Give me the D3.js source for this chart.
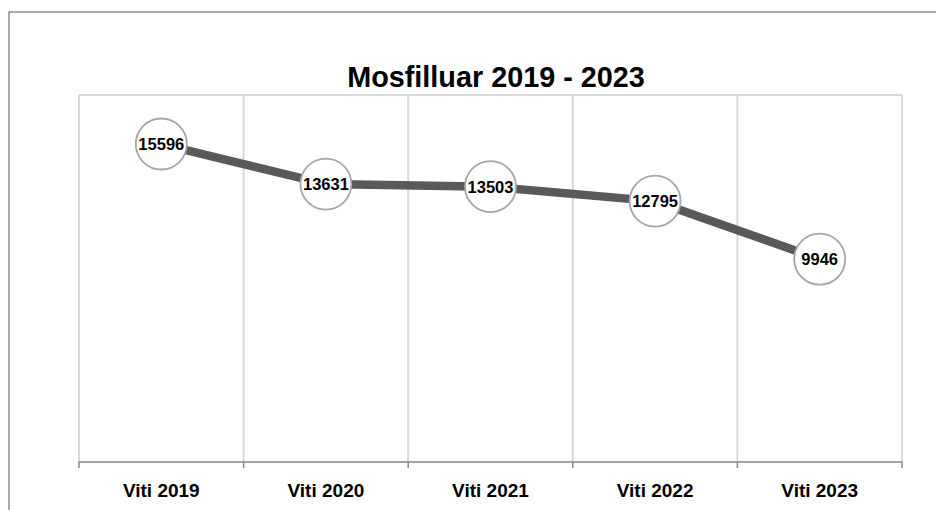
<!DOCTYPE html>
<html><head><meta charset="utf-8">
<script src="https://cdn.jsdelivr.net/npm/d3@7"></script>
<style>html,body{margin:0;padding:0;background:#fff;overflow:hidden}</style>
</head><body><svg id="c" width="936" height="510"></svg>
<script>
const categories = ["Viti 2019","Viti 2020","Viti 2021","Viti 2022","Viti 2023"];
const values = [15596, 13631, 13503, 12795, 9946];
const title = "Mosfilluar 2019 - 2023";
const yMax = 18000;

const svg = d3.select("#c");
const font = "'Liberation Sans', Arial, sans-serif";
const m = {left:79, top:95, right:902, bottom:462};

// outer chart border (extends past viewport at right/bottom)
svg.append("rect").attr("x",9).attr("y",12).attr("width",960).attr("height",540)
  .attr("fill","none").attr("stroke","#8e8e8e").attr("stroke-width",1.5);

const x = d3.scaleBand().domain(categories).range([m.left, m.right]).padding(0);
const y = d3.scaleLinear().domain([0, yMax]).range([m.bottom, m.top]);

// plot area frame + vertical gridlines
const bounds = categories.map(c => x(c)).concat([m.right]);
svg.append("g").selectAll("line").data(bounds).join("line")
  .attr("x1",d=>d).attr("x2",d=>d).attr("y1",m.top).attr("y2",m.bottom)
  .attr("stroke","#d9d9d9").attr("stroke-width",2);
svg.append("line").attr("x1",m.left).attr("x2",m.right).attr("y1",m.top).attr("y2",m.top)
  .attr("stroke","#d9d9d9").attr("stroke-width",2);

// x axis
svg.append("line").attr("x1",m.left).attr("x2",m.right).attr("y1",m.bottom).attr("y2",m.bottom)
  .attr("stroke","#868686").attr("stroke-width",1.5);
svg.append("g").selectAll("line").data(bounds).join("line")
  .attr("x1",d=>d).attr("x2",d=>d).attr("y1",m.bottom).attr("y2",m.bottom+6)
  .attr("stroke","#868686").attr("stroke-width",1.5);
svg.append("g").selectAll("text").data(categories).join("text")
  .attr("x",d=>x(d)+x.bandwidth()/2).attr("y",497)
  .attr("text-anchor","middle").attr("font-family",font).attr("font-weight","bold")
  .attr("font-size","19px").attr("fill","#000").text(d=>d);

// title
svg.append("text").attr("x",496).attr("y",87).attr("text-anchor","middle")
  .attr("font-family",font).attr("font-weight","bold").attr("font-size","28.8px")
  .attr("fill","#000").text(title);

// line
const cx = i => x(categories[i]) + x.bandwidth()/2;
const line = d3.line().x((d,i)=>cx(i)).y(d=>y(d));
svg.append("path").datum(values).attr("d",line).attr("fill","none")
  .attr("stroke","#595959").attr("stroke-width",8.5);

// markers
const g = svg.append("g").selectAll("g").data(values).join("g")
  .attr("transform",(d,i)=>`translate(${cx(i)},${y(d)})`);
g.append("circle").attr("r",25.5).attr("fill","#fff").attr("stroke","#a6a6a6").attr("stroke-width",1.8);
g.append("text").attr("text-anchor","middle").attr("dy","0.36em")
  .attr("font-family",font).attr("font-weight","bold").attr("font-size","16.5px")
  .attr("fill","#000").text(d=>d);
</script></body></html>
